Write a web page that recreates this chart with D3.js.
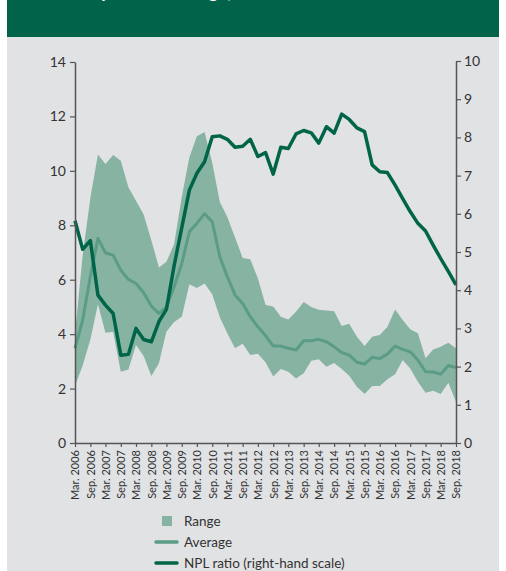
<!DOCTYPE html>
<html>
<head>
<meta charset="utf-8">
<script src="https://cdn.jsdelivr.net/npm/d3@7"></script>
<style>
  body { margin: 0; background: #fff; }
  svg { display: block; font-family: Lato, "Open Sans", sans-serif; }
</style>
</head>
<body>
<div id="chart"></div>
<script>
// quarterly observations, Mar. 2006 - Sep. 2018
const quarters = [
  "2006-03","2006-06","2006-09","2006-12","2007-03","2007-06","2007-09","2007-12",
  "2008-03","2008-06","2008-09","2008-12","2009-03","2009-06","2009-09","2009-12",
  "2010-03","2010-06","2010-09","2010-12","2011-03","2011-06","2011-09","2011-12",
  "2012-03","2012-06","2012-09","2012-12","2013-03","2013-06","2013-09","2013-12",
  "2014-03","2014-06","2014-09","2014-12","2015-03","2015-06","2015-09","2015-12",
  "2016-03","2016-06","2016-09","2016-12","2017-03","2017-06","2017-09","2017-12",
  "2018-03","2018-06","2018-09"
];

const rangeLow = [
  2.1, 2.85, 3.8, 5.1, 4.05, 4.09, 2.62, 2.7, 3.6, 3.2, 2.46, 2.93, 4.1, 4.45, 4.64, 5.83,
  5.7, 5.86, 5.47, 4.62, 4.03, 3.48, 3.65, 3.23, 3.28, 2.97, 2.44, 2.72, 2.62, 2.37, 2.56, 3.02,
  3.08, 2.8, 2.94, 2.72, 2.47, 2.07, 1.8, 2.09, 2.09, 2.34, 2.53, 3.05, 2.74, 2.25, 1.85, 1.92,
  1.8, 2.21, 1.52
];

const rangeHigh = [
  4.0, 6.9, 9.0, 10.6, 10.25, 10.58, 10.37, 9.4, 8.9, 8.4, 7.45, 6.45, 6.66, 7.3, 9.05, 10.5,
  11.27, 11.43, 10.3, 8.86, 8.3, 7.55, 6.8, 6.75, 6.05, 5.07, 5.02, 4.64, 4.54, 4.82, 5.18, 5.0,
  4.9, 4.87, 4.84, 4.3, 4.38, 3.9, 3.56, 3.9, 3.97, 4.27, 4.91, 4.52, 4.18, 4.03, 3.11, 3.44,
  3.54, 3.68, 3.48
];

const average = [
  3.48, 4.52, 6.11, 7.52, 6.99, 6.9, 6.35, 6.01, 5.86, 5.52, 5.03, 4.76, 5.0, 5.74, 6.6, 7.76,
  8.07, 8.43, 8.13, 6.84, 6.11, 5.44, 5.13, 4.64, 4.27, 3.95, 3.56, 3.56, 3.48, 3.42, 3.76, 3.76,
  3.81, 3.72, 3.54, 3.32, 3.23, 2.97, 2.9, 3.15, 3.1, 3.27, 3.56, 3.44, 3.35, 3.05, 2.62, 2.61,
  2.53, 2.85, 2.77
];

// right-hand scale
const nplRatio = [
  5.82, 5.07, 5.3, 3.87, 3.61, 3.39, 2.3, 2.32, 3.0, 2.71, 2.65, 3.18, 3.5, 4.64, 5.64, 6.62,
  7.06, 7.36, 8.02, 8.04, 7.95, 7.74, 7.77, 7.95, 7.5, 7.6, 7.04, 7.74, 7.71, 8.09, 8.18, 8.12,
  7.85, 8.28, 8.11, 8.61, 8.47, 8.25, 8.15, 7.28, 7.1, 7.08, 6.75, 6.4, 6.06, 5.75, 5.55, 5.18,
  4.83, 4.49, 4.14
];

const leftTicks = [0, 2, 4, 6, 8, 10, 12, 14];
const rightTicks = [0, 1, 2, 3, 4, 5, 6, 7, 8, 9, 10];
const legendLabels = ["Range", "Average", "NPL ratio (right-hand scale)"];

const width = 506, height = 571;
const colors = {band: "#87b3a3", avg: "#5a9c85", npl: "#006548", axis: "#555", text: "#333"};

const parse = d3.utcParse("%Y-%m");
const dates = quarters.map(parse);

const svg = d3.select("#chart").append("svg")
  .attr("width", width).attr("height", height)
  .attr("viewBox", `0 0 ${width} ${height}`);

// panel + header band (title runs off the top edge, as in the source)
svg.append("rect").attr("x", 7).attr("y", 0).attr("width", 492).attr("height", height)
  .attr("fill", "#e1e2e4");
svg.append("rect").attr("x", 7).attr("y", 0).attr("width", 492).attr("height", 37)
  .attr("fill", "#00634a");
svg.append("text").attr("x", 40).attr("y", -2)
  .attr("fill", "#fff").attr("font-size", 18).attr("font-weight", "bold")
  .text("Total capital ratio range,");

const x = d3.scaleUtc().domain(d3.extent(dates)).range([75, 456]);
const y = d3.scaleLinear().domain([0, 14]).range([443, 62]);
const y2 = d3.scaleLinear().domain([0, 10]).range([443, 61]);

const rows = dates.map((d, i) => ({date: d, lo: rangeLow[i], hi: rangeHigh[i], avg: average[i], npl: nplRatio[i]}));

svg.append("path")
  .datum(rows)
  .attr("fill", colors.band)
  .attr("d", d3.area().x(d => x(d.date)).y0(d => y(d.lo)).y1(d => y(d.hi)));

svg.append("path")
  .datum(rows)
  .attr("fill", "none").attr("stroke", colors.avg).attr("stroke-width", 3)
  .attr("stroke-linejoin", "round")
  .attr("d", d3.line().x(d => x(d.date)).y(d => y(d.avg)));

svg.append("path")
  .datum(rows)
  .attr("fill", "none").attr("stroke", colors.npl).attr("stroke-width", 3.5)
  .attr("stroke-linejoin", "round")
  .attr("d", d3.line().x(d => x(d.date)).y(d => y2(d.npl)));

const styleAxis = g => {
  g.select(".domain").attr("stroke", colors.axis).attr("stroke-width", 1.5);
  g.selectAll(".tick line").attr("stroke", colors.axis).attr("stroke-width", 1.2);
  g.selectAll(".tick text").attr("fill", colors.text);
};

svg.append("g")
  .attr("transform", "translate(75,0)")
  .call(d3.axisLeft(y).tickValues(leftTicks).tickSize(5).tickSizeOuter(0).tickPadding(4))
  .attr("font-size", 14).attr("font-family", null)
  .call(styleAxis);

svg.append("g")
  .attr("transform", "translate(456,0)")
  .call(d3.axisRight(y2).tickValues(rightTicks).tickSize(5).tickSizeOuter(0).tickPadding(3))
  .attr("font-size", 14).attr("font-family", null)
  .call(styleAxis);

const tickDates = dates.filter(d => d.getUTCMonth() === 2 || d.getUTCMonth() === 8);
svg.append("g")
  .attr("transform", "translate(0,443)")
  .call(d3.axisBottom(x).tickValues(tickDates).tickFormat(d3.utcFormat("%b. %Y"))
    .tickSize(4).tickSizeOuter(0))
  .attr("font-size", 11).attr("font-family", null)
  .call(styleAxis)
  .call(g => g.selectAll(".tick text")
    .attr("text-anchor", "end")
    .attr("transform", "rotate(-90)")
    .attr("x", -7).attr("y", 0).attr("dy", "0.35em"));

// legend
const legend = svg.append("g").attr("font-size", 13.5).attr("fill", colors.text);
const lg = legend.selectAll("g").data(legendLabels).join("g")
  .attr("transform", (d, i) => `translate(0,${521 + i * 21})`);
lg.filter((d, i) => i === 0).append("rect")
  .attr("x", 162).attr("y", -5).attr("width", 10).attr("height", 10).attr("fill", colors.band);
lg.filter((d, i) => i > 0).append("line")
  .attr("x1", 156).attr("x2", 177).attr("stroke-width", 3.5).attr("stroke-linecap", "round")
  .attr("stroke", (d, i) => i === 0 ? colors.avg : colors.npl);
lg.append("text").attr("x", 184).attr("dy", "0.35em").text(d => d);
</script>
</body>
</html>
